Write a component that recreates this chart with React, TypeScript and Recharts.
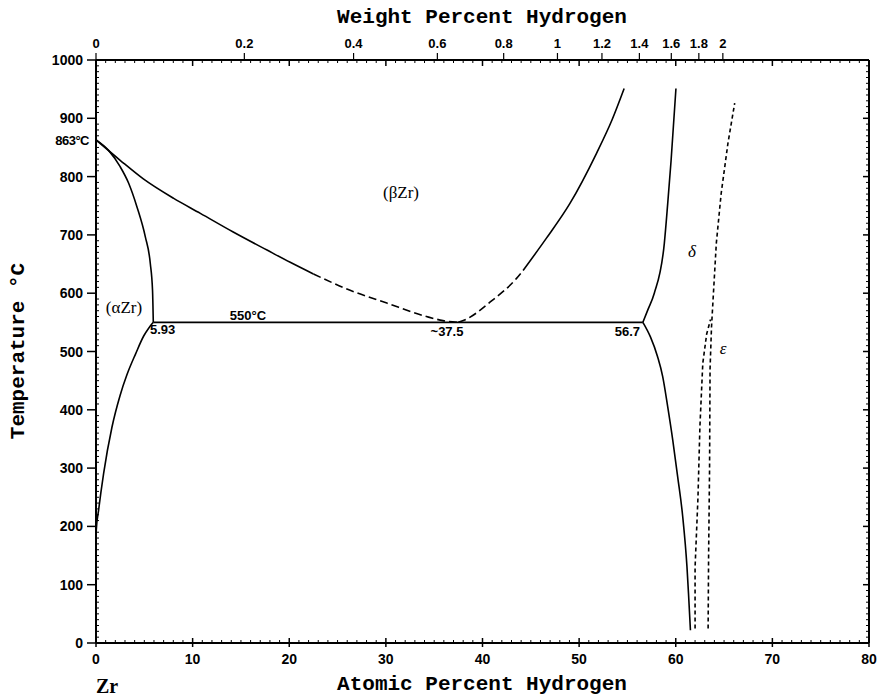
import React from 'react';
import { LineChart, Line, XAxis, YAxis } from 'recharts';

// Zr-H phase diagram, atomic % H on x, temperature (C) on y
const alphaUpper = [
  { x: 0, t: 863 }, { x: 1.3, t: 845 }, { x: 2.5, t: 817 }, { x: 3.37, t: 789 }, { x: 4.24, t: 748 },
  { x: 5.1, t: 697 }, { x: 5.62, t: 651 }, { x: 5.85, t: 605 }, { x: 5.93, t: 550 },
];
const alphaLower = [
  { x: 0, t: 160 }, { x: 0.03, t: 194 }, { x: 0.27, t: 228 }, { x: 0.79, t: 291 }, { x: 1.65, t: 370 },
  { x: 2.5, t: 425 }, { x: 3.2, t: 460 }, { x: 4.1, t: 496 }, { x: 4.95, t: 527 }, { x: 5.45, t: 540 },
  { x: 5.93, t: 550 },
];
const betaUpperSolid = [
  { x: 0, t: 863 }, { x: 2.5, t: 828 }, { x: 4.9, t: 796 }, { x: 8.0, t: 763 }, { x: 10.8, t: 737 },
  { x: 14.2, t: 705 }, { x: 17.7, t: 674 }, { x: 20.1, t: 653 }, { x: 22.5, t: 633 },
];
const betaUpperDashed = [
  { x: 22.5, t: 633 }, { x: 26.3, t: 605 }, { x: 30.1, t: 583 }, { x: 34.2, t: 560 },
  { x: 35.9, t: 553 }, { x: 37.5, t: 550 },
];
const betaRightDashed = [
  { x: 37.5, t: 550 }, { x: 38.4, t: 556 }, { x: 40.8, t: 585 }, { x: 43.5, t: 625 }, { x: 44.2, t: 639 },
];
const betaRightSolid = [
  { x: 44.2, t: 639 }, { x: 46.6, t: 694 }, { x: 49.05, t: 754 },
  { x: 51.8, t: 840 }, { x: 53.4, t: 897 }, { x: 54.66, t: 951 },
];
const deltaUpper = [
  { x: 56.6, t: 550 }, { x: 57.1, t: 571 }, { x: 57.78, t: 600 }, { x: 58.82, t: 686 },
  { x: 59.17, t: 754 }, { x: 59.52, t: 828 }, { x: 60.02, t: 951 },
];
const deltaLower = [
  { x: 56.6, t: 550 }, { x: 57.38, t: 525 }, { x: 58.12, t: 491 }, { x: 58.65, t: 457 },
  { x: 59.17, t: 405 }, { x: 59.69, t: 348 }, { x: 60.2, t: 285 }, { x: 60.72, t: 217 },
  { x: 61.16, t: 131 }, { x: 61.32, t: 85 }, { x: 61.52, t: 22 },
];
const epsRight = [
  { x: 63.35, t: 25 }, { x: 63.4, t: 150 }, { x: 63.5, t: 300 }, { x: 63.55, t: 470 },
  { x: 63.7, t: 542 }, { x: 63.9, t: 600 }, { x: 64.2, t: 686 }, { x: 64.7, t: 771 },
  { x: 65.4, t: 857 }, { x: 66.1, t: 926 },
];
const epsLeft = [
  { x: 62.0, t: 25 }, { x: 62.0, t: 130 }, { x: 62.3, t: 250 }, { x: 62.5, t: 371 },
  { x: 62.8, t: 480 }, { x: 63.2, t: 530 }, { x: 63.6, t: 555 },
];
const eutectoid = [{ x: 5.93, t: 550 }, { x: 56.6, t: 550 }];

const weightTicks = [0, 0.2, 0.4, 0.6, 0.8, 1, 1.2, 1.4, 1.6, 1.8, 2];

// weight % H -> atomic % H (H 1.008, Zr 91.224)
const wtToAt = (w: number) => {
  const h = w / 1.008;
  const zr = (100 - w) / 91.224;
  return (h / (h + zr)) * 100;
};
const weightPos = weightTicks.map(wtToAt);

const xTicks = Array.from({ length: 81 }, (_, i) => i);
const yTicks = Array.from({ length: 101 }, (_, i) => i * 10);
const topTicks = [...xTicks, ...weightPos.filter((p) => p > 0)].sort((a, b) => a - b);

const INK = '#000';
const tickFont = { fontFamily: '"Liberation Sans", Arial, sans-serif', fontWeight: 700, fontSize: 14 };

const BottomTick = (props: any) => {
  const { x, y, payload } = props;
  const v = payload.value;
  if (v % 10 !== 0) return <line x1={x} y1={y} x2={x} y2={y - 3} stroke={INK} strokeWidth={1} />;
  return (
    <g>
      <line x1={x} y1={y - 5} x2={x} y2={y + 4} stroke={INK} strokeWidth={1.5} />
      <text x={x} y={y + 16} textAnchor="middle" dominantBaseline="central" fill={INK} style={tickFont}>
        {v}
      </text>
    </g>
  );
};

const TopTick = (props: any) => {
  const { x, y, payload } = props;
  const v = payload.value;
  const wi = weightPos.findIndex((p) => Math.abs(p - v) < 1e-6);
  const parts: React.ReactNode[] = [];
  if (Number.isInteger(v)) {
    const major = v % 10 === 0;
    parts.push(<line key="a" x1={x} y1={y} x2={x} y2={y + (major ? 6 : 3)} stroke={INK} strokeWidth={major ? 1.5 : 1} />);
  }
  if (wi >= 0) {
    parts.push(<line key="w" x1={x} y1={y} x2={x} y2={y - 7} stroke={INK} strokeWidth={1.2} />);
    parts.push(
      <text key="l" x={x} y={y - 17} textAnchor="middle" dominantBaseline="central" fill={INK} style={{ ...tickFont, fontSize: 13 }}>
        {weightTicks[wi]}
      </text>
    );
  }
  return <g>{parts}</g>;
};

const LeftTick = (props: any) => {
  const { x, y, payload } = props;
  const v = payload.value;
  if (v % 100 !== 0) return <line x1={x} y1={y} x2={x + 3} y2={y} stroke={INK} strokeWidth={1} />;
  return (
    <g>
      <line x1={x - 9} y1={y} x2={x} y2={y} stroke={INK} strokeWidth={1.5} />
      <text x={x - 13} y={y} textAnchor="end" dominantBaseline="central" fill={INK} style={tickFont}>
        {v}
      </text>
    </g>
  );
};

const RightTick = (props: any) => {
  const { x, y, payload } = props;
  const major = payload.value % 100 === 0;
  return <line x1={x - (major ? 6 : 3)} y1={y} x2={x} y2={y} stroke={INK} strokeWidth={major ? 1.5 : 1} />;
};

const Tag = ({ x, y, children, align = 'center', style }: any) => {
  const tx = align === 'center' ? '-50%' : align === 'right' ? '-100%' : '0';
  return (
    <div
      style={{
        position: 'absolute',
        left: x,
        top: y,
        transform: `translate(${tx}, -50%)`,
        whiteSpace: 'nowrap',
        lineHeight: 1,
        color: INK,
        ...style,
      }}
    >
      {children}
    </div>
  );
};

const sans = { fontFamily: '"Liberation Sans", Arial, sans-serif', fontWeight: 700, fontSize: 13 };
const serif = { fontFamily: '"Liberation Serif", "Times New Roman", serif', fontSize: 17 };
const mono = { fontFamily: '"Liberation Mono", "Courier New", monospace', fontWeight: 700, fontSize: 21 };

export default function App() {
  const solid = (data: any[], key: string) => (
    <Line key={key} data={data} dataKey="t" type="monotoneX" stroke={INK} strokeWidth={1.6} dot={false} isAnimationActive={false} />
  );
  const dashed = (data: any[], key: string, dash: string, curve: any = 'monotoneX') => (
    <Line key={key} data={data} dataKey="t" type={curve} stroke={INK} strokeWidth={1.6} strokeDasharray={dash} dot={false} isAnimationActive={false} />
  );

  return (
    <div style={{ position: 'absolute', left: 0, top: 0, width: 878, height: 699, background: '#fff' }}>
      <LineChart width={878} height={699} margin={{ top: 20, right: 1, bottom: 16, left: 36 }}>
        <XAxis
          dataKey="x"
          type="number"
          domain={[0, 80]}
          ticks={xTicks}
          interval={0}
          height={40}
          tickSize={0}
          tickMargin={0}
          tickLine={false}
          tick={BottomTick}
          axisLine={{ stroke: INK, strokeWidth: 2 }}
          allowDataOverflow
        />
        <XAxis
          xAxisId="top"
          dataKey="x"
          orientation="top"
          type="number"
          domain={[0, 80]}
          ticks={topTicks}
          interval={0}
          height={40}
          tickSize={0}
          tickMargin={0}
          tickLine={false}
          tick={TopTick}
          axisLine={{ stroke: INK, strokeWidth: 2 }}
          allowDataOverflow
        />
        <YAxis
          type="number"
          domain={[0, 1000]}
          ticks={yTicks}
          interval={0}
          width={60}
          tickSize={0}
          tickMargin={0}
          tickLine={false}
          tick={LeftTick}
          axisLine={{ stroke: INK, strokeWidth: 2 }}
          allowDataOverflow
        />
        <YAxis
          yAxisId="right"
          orientation="right"
          type="number"
          domain={[0, 1000]}
          ticks={yTicks}
          interval={0}
          width={8}
          tickSize={0}
          tickMargin={0}
          tickLine={false}
          tick={RightTick}
          axisLine={{ stroke: INK, strokeWidth: 2 }}
          allowDataOverflow
        />
        {solid(alphaUpper, 'alphaUpper')}
        {solid(alphaLower, 'alphaLower')}
        {solid(betaUpperSolid, 'betaUpperSolid')}
        {dashed(betaUpperDashed, 'betaUpperDashed', '8 4')}
        {dashed(betaRightDashed, 'betaRightDashed', '8 4')}
        {solid(betaRightSolid, 'betaRightSolid')}
        {solid(deltaUpper, 'deltaUpper')}
        {solid(deltaLower, 'deltaLower')}
        {dashed(epsRight, 'epsRight', '4 3', 'linear')}
        {dashed(epsLeft, 'epsLeft', '4 3', 'linear')}
        {solid(eutectoid, 'eutectoid')}
      </LineChart>

      <Tag x={482} y={17} style={mono}>Weight Percent Hydrogen</Tag>
      <Tag x={482} y={684} style={mono}>Atomic Percent Hydrogen</Tag>
      <Tag x={18} y={351} style={{ ...mono, transform: 'translate(-50%, -50%) rotate(-90deg)' }}>
        Temperature °C
      </Tag>
      <Tag x={107} y={686} style={{ ...serif, fontWeight: 700, fontSize: 20 }}>Zr</Tag>
      <Tag x={89} y={140} align="right" style={{ ...sans, letterSpacing: -0.5 }}>863°C</Tag>
      <Tag x={124} y={307} style={serif}>(αZr)</Tag>
      <Tag x={401} y={192} style={serif}>(βZr)</Tag>
      <Tag x={248} y={315} style={sans}>550°C</Tag>
      <Tag x={150} y={329} align="left" style={sans}>5.93</Tag>
      <Tag x={447} y={331} style={sans}>~37.5</Tag>
      <Tag x={640} y={331} align="right" style={sans}>56.7</Tag>
      <Tag x={692} y={251} style={{ ...serif, fontStyle: 'italic' }}>δ</Tag>
      <Tag x={723} y={348} style={{ ...serif, fontStyle: 'italic' }}>ε</Tag>
    </div>
  );
}
